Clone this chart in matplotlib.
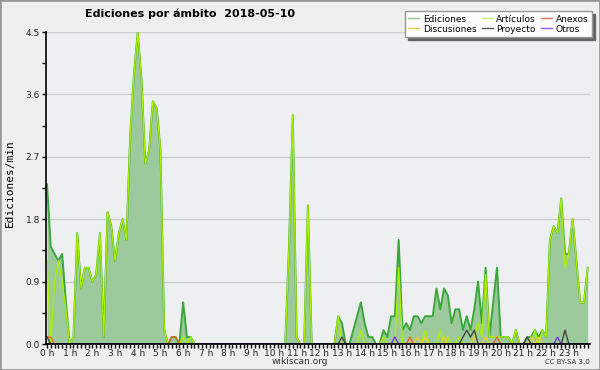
import matplotlib
matplotlib.use('Agg')
import matplotlib.pyplot as plt
from matplotlib.lines import Line2D
from matplotlib.patches import Rectangle
import numpy as np

# edits per minute, one value per 10 minutes (6 per hour)
ediciones = [
    2.3, 1.4, 1.3, 1.2, 1.3, 0.6,   # 0 h
    0.0, 0.1, 1.6, 0.8, 1.1, 1.1,   # 1 h
    0.9, 1.0, 1.6, 0.1, 1.9, 1.7,   # 2 h
    1.2, 1.6, 1.8, 1.5, 3.0, 3.9,   # 3 h
    4.5, 3.8, 2.6, 2.8, 3.5, 3.4,   # 4 h
    2.8, 0.2, 0.0, 0.1, 0.1, 0.0,   # 5 h
    0.6, 0.1, 0.1, 0.0, 0.0, 0.0,   # 6 h
    0.0, 0.0, 0.0, 0.0, 0.0, 0.0,   # 7 h
    0.0, 0.0, 0.0, 0.0, 0.0, 0.0,   # 8 h
    0.0, 0.0, 0.0, 0.0, 0.0, 0.0,   # 9 h
    0.0, 0.0, 0.0, 0.0, 1.4, 3.3,   # 10 h
    0.1, 0.0, 0.0, 2.0, 0.0, 0.0,   # 11 h
    0.0, 0.0, 0.0, 0.0, 0.0, 0.4,   # 12 h
    0.3, 0.0, 0.0, 0.2, 0.4, 0.6,   # 13 h
    0.3, 0.1, 0.1, 0.0, 0.0, 0.2,   # 14 h
    0.1, 0.4, 0.4, 1.5, 0.2, 0.3,   # 15 h
    0.2, 0.4, 0.4, 0.3, 0.4, 0.4,   # 16 h
    0.4, 0.8, 0.5, 0.8, 0.7, 0.3,   # 17 h
    0.5, 0.5, 0.2, 0.4, 0.2, 0.5,   # 18 h
    0.9, 0.3, 1.1, 0.1, 0.6, 1.1,   # 19 h
    0.1, 0.1, 0.1, 0.0, 0.2, 0.0,   # 20 h
    0.0, 0.1, 0.1, 0.2, 0.1, 0.2,   # 21 h
    0.1, 1.5, 1.7, 1.6, 2.1, 1.3,   # 22 h
    1.3, 1.8, 1.2, 0.6, 0.6, 1.1,   # 23 h
]
articulos = [
    1.2, 0.0, 0.9, 1.2, 0.9, 0.5,
    0.0, 0.1, 1.6, 0.8, 1.1, 1.1,
    0.9, 1.0, 1.6, 0.1, 1.9, 1.7,
    1.2, 1.6, 1.8, 1.5, 3.0, 3.9,
    4.5, 3.8, 2.6, 2.8, 3.5, 3.4,
    2.8, 0.2, 0.0, 0.0, 0.0, 0.0,
    0.1, 0.0, 0.1, 0.0, 0.0, 0.0,
    0.0, 0.0, 0.0, 0.0, 0.0, 0.0,
    0.0, 0.0, 0.0, 0.0, 0.0, 0.0,
    0.0, 0.0, 0.0, 0.0, 0.0, 0.0,
    0.0, 0.0, 0.0, 0.0, 1.4, 3.3,
    0.1, 0.0, 0.0, 2.0, 0.0, 0.0,
    0.0, 0.0, 0.0, 0.0, 0.0, 0.4,
    0.0, 0.0, 0.0, 0.0, 0.0, 0.2,
    0.0, 0.0, 0.0, 0.0, 0.0, 0.1,
    0.0, 0.0, 0.0, 1.1, 0.0, 0.0,
    0.0, 0.0, 0.0, 0.0, 0.2, 0.0,
    0.0, 0.0, 0.2, 0.0, 0.1, 0.0,
    0.0, 0.1, 0.0, 0.0, 0.0, 0.1,
    0.3, 0.1, 1.0, 0.1, 0.1, 0.1,
    0.1, 0.1, 0.1, 0.0, 0.2, 0.0,
    0.0, 0.0, 0.0, 0.2, 0.0, 0.2,
    0.1, 1.5, 1.7, 1.6, 2.1, 1.1,
    1.3, 1.8, 1.2, 0.6, 0.6, 1.1,
]
# sparse series: {10-minute slot: value}
anexos = {0: 0.1, 1: 0.1, 33: 0.1, 34: 0.1, 96: 0.1, 119: 0.1}
discusiones = {98: 0.1, 100: 0.1, 105: 0.1, 113: 0.1, 116: 0.1, 128: 0.1, 130: 0.1}
proyecto = {0: 0.1, 78: 0.1, 110: 0.1, 111: 0.2, 112: 0.1, 113: 0.2, 127: 0.1, 137: 0.2}
otros = {92: 0.1, 135: 0.1}

hours = [f'{h} h' for h in range(24)]
yticks = [0.0, 0.9, 1.8, 2.7, 3.6, 4.5]


def dense(d):
    v = np.zeros(144)
    for k, val in d.items():
        v[k] = val
    return v


x = np.arange(144)

fig = plt.figure(figsize=(6, 3.7), dpi=100)
fig.patch.set_facecolor('#efefef')
ax = fig.add_axes([45.5 / 600, 26 / 370, (590 - 45.5) / 600, (344 - 32) / 370])
ax.set_facecolor('#eeeff0')

ax.fill_between(x, 0, ediciones, color='#9dca9d', lw=0, zorder=1)
ax.plot(x, ediciones, color='#3aa83a', lw=1.4, zorder=3)
ax.plot(x, articulos, color='#aaee00', lw=1.0, zorder=3.1)
ax.plot(x, dense(anexos), color='#ee6622', lw=1.0, zorder=3.2)
ax.plot(x, dense(discusiones), color='#eecc33', lw=1.0, zorder=3.2)
ax.plot(x, dense(proyecto), color='#444444', lw=1.0, zorder=3.3)
ax.plot(x, dense(otros), color='#7733ee', lw=1.0, zorder=3.3)

ax.set_xlim(-0.4, 143.6)
ax.set_ylim(0, 4.5)

ax.set_xticks(np.arange(0, 144, 6))
ax.set_xticklabels(hours)
ax.set_xticks(np.arange(0, 144, 1), minor=True)
ax.set_yticks(yticks)
ax.set_yticklabels([f'{v:.1f}' for v in yticks])
ax.set_yticks(np.arange(0.45, 4.5, 0.9), minor=True)
ax.tick_params(axis='both', which='both', direction='out', length=3,
               width=1, color='black', labelsize=6.5, pad=1, labelcolor='#222222')
ax.tick_params(axis='x', which='major', pad=0.5)

ax.yaxis.grid(True, color='#cccccc', lw=1)
ax.set_axisbelow(True)
for s in ['top', 'right']:
    ax.spines[s].set_visible(False)
for s in ['left', 'bottom']:
    ax.spines[s].set_linewidth(1.2)
    ax.spines[s].set_zorder(5)

fig.text(85 / 600, 1 - 14 / 370, 'Ediciones por ámbito  2018-05-10',
         fontsize=8, fontweight='bold', ha='left', va='center')
fig.text(10 / 600, 1 - 183 / 370, 'Ediciones/min', rotation=90,
         family='DejaVu Sans Mono', fontsize=8, ha='center', va='center')
fig.text(300 / 600, 1 - 362 / 370, 'wikiscan.org', fontsize=6.5,
         ha='center', va='center', color='#333333')
fig.text(590 / 600, 1 - 362 / 370, 'CC BY-SA 3.0', fontsize=5,
         ha='right', va='center', color='#333333')

handles = [
    Line2D([], [], color='#88cc88', lw=1),
    Line2D([], [], color='#eecc55', lw=1),
    Line2D([], [], color='#ccee66', lw=1),
    Line2D([], [], color='#555555', lw=1),
    Line2D([], [], color='#ee7744', lw=1),
    Line2D([], [], color='#9955ee', lw=1),
]
labels = ['Ediciones', 'Discusiones', 'Artículos', 'Proyecto', 'Anexos', 'Otros']
fig.legend(handles, labels, ncol=3, loc='upper right',
           bbox_to_anchor=(592 / 600, 1 - 11 / 370), fontsize=6.5,
           frameon=True, fancybox=False, facecolor='#fdfdfd', edgecolor='#999999',
           framealpha=1, shadow={'color': '#666666', 'alpha': 1},
           handlelength=1.2, columnspacing=0.6, labelspacing=0.1,
           borderpad=0.4, handletextpad=0.4, borderaxespad=0)

fig.add_artist(Rectangle((0, 0), 1, 1, transform=fig.transFigure, fill=False,
                         ec='#999999', lw=2))

fig.savefig('out.png', dpi=100, facecolor=fig.get_facecolor())
